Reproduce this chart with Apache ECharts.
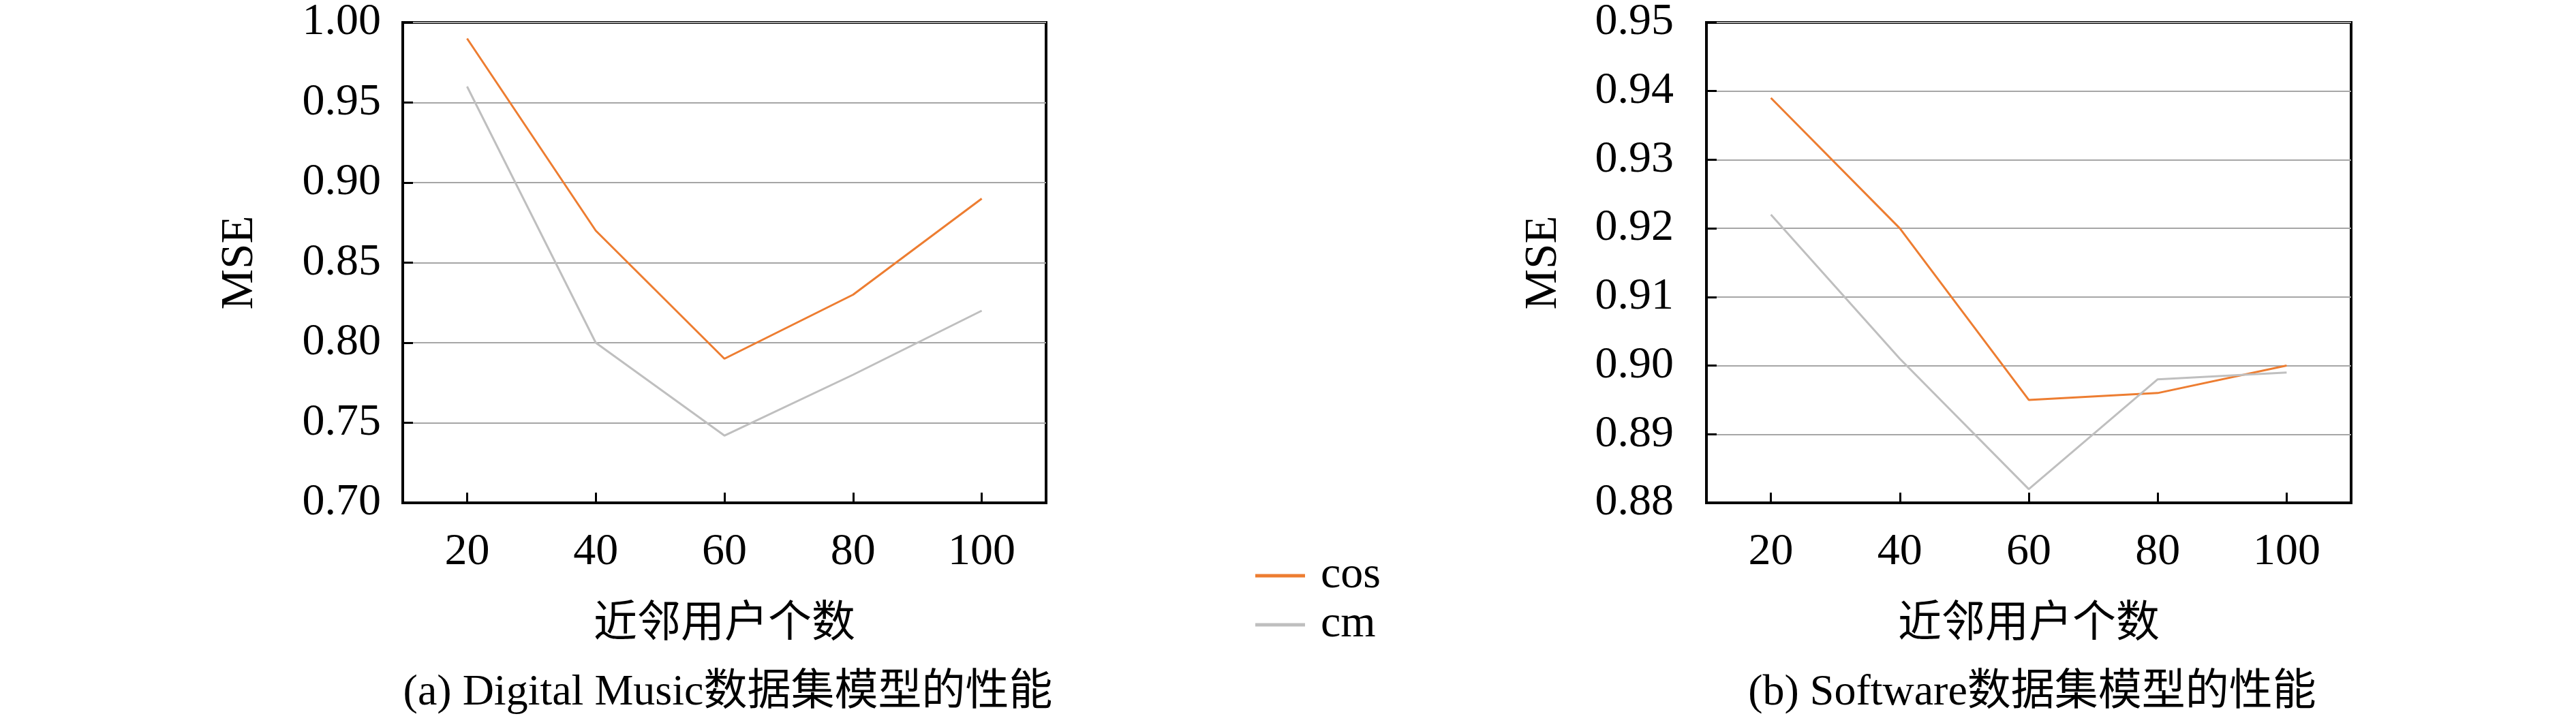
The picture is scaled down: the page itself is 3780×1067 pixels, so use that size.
<!DOCTYPE html>
<html>
<head>
<meta charset="utf-8">
<script src="https://cdn.jsdelivr.net/npm/echarts@6/dist/echarts.min.js"></script>
<style>
  html, body { margin: 0; padding: 0; background: #fff; }
  #main { width: 3780px; height: 1067px; }
</style>
</head>
<body>
<div id="main"></div>
<script>
// 近邻用户个数
const neighbors = ['20', '40', '60', '80', '100'];
const seriesNames = ['cos', 'cm'];

// (a) Digital Music
const musicCos = [0.99, 0.87, 0.79, 0.83, 0.89];
const musicCm = [0.96, 0.80, 0.742, 0.78, 0.82];

// (b) Software
const softCos = [0.939, 0.920, 0.895, 0.896, 0.900];
const softCm = [0.922, 0.901, 0.882, 0.898, 0.899];

const captions = ['(a) Digital Music数据集模型的性能', '(b) Software数据集模型的性能'];
const xName = '近邻用户个数';
const yName = 'MSE';

const FONT = "'Liberation Serif', 'Noto Sans CJK SC', serif";
const COLORS = ['#ED7D31', '#BFBFBF'];

const chart = echarts.init(document.getElementById('main'));

function xAxisOf(idx) {
  return {
    type: 'category',
    gridIndex: idx,
    data: neighbors,
    boundaryGap: true,
    name: xName,
    nameLocation: 'middle',
    nameGap: 147,
    nameTextStyle: { color: '#000', fontSize: 64, fontFamily: FONT },
    axisLine: { show: true, lineStyle: { color: '#000', width: 4 } },
    axisTick: { show: true, inside: true, alignWithLabel: true, length: 15, lineStyle: { color: '#000', width: 3 } },
    axisLabel: { color: '#000', fontSize: 66, fontFamily: FONT, margin: 40 },
    splitLine: { show: false },
  };
}

function yAxisOf(idx, min, max, interval, margin) {
  return {
    type: 'value',
    gridIndex: idx,
    min: min,
    max: max,
    interval: interval,
    name: yName,
    nameLocation: 'middle',
    nameGap: 205,
    nameTextStyle: { color: '#000', fontSize: 67, fontFamily: FONT },
    axisLine: { show: true, lineStyle: { color: '#000', width: 4 } },
    axisTick: { show: true, inside: true, length: 15, lineStyle: { color: '#000', width: 3 } },
    axisLabel: {
      color: '#000',
      fontSize: 66,
      fontFamily: FONT,
      margin: margin,
      formatter: function (v) { return v.toFixed(2); },
    },
    splitLine: { show: true, lineStyle: { color: '#A6A6A6', width: 2 } },
  };
}

function lineOf(name, data, idx, color) {
  return {
    name: name,
    type: 'line',
    xAxisIndex: idx,
    yAxisIndex: idx,
    data: data,
    symbol: 'none',
    lineStyle: { color: color, width: 3 },
    itemStyle: { color: color },
  };
}

chart.setOption({
  animation: false,
  title: [
    {
      text: captions[0],
      left: 1063,
      top: 980,
      textAlign: 'center',
      textStyle: { color: '#000', fontSize: 64, fontWeight: 'normal', fontFamily: FONT },
    },
    {
      text: captions[1],
      left: 2977,
      top: 980,
      textAlign: 'center',
      textStyle: { color: '#000', fontSize: 64, fontWeight: 'normal', fontFamily: FONT },
    },
  ],
  legend: {
    data: seriesNames,
    orient: 'vertical',
    left: 1837,
    top: 807,
    icon: 'rect',
    itemWidth: 73,
    itemHeight: 5,
    itemGap: 6,
    textStyle: { color: '#000', fontSize: 66, fontFamily: FONT, lineHeight: 40, padding: [0, 0, 0, 18] },
  },
  grid: [
    { left: 591, top: 31, width: 944, height: 707, show: true, borderColor: '#000', borderWidth: 4, backgroundColor: 'transparent' },
    { left: 2504, top: 31, width: 946, height: 707, show: true, borderColor: '#000', borderWidth: 4, backgroundColor: 'transparent' },
  ],
  xAxis: [xAxisOf(0), xAxisOf(1)],
  yAxis: [yAxisOf(0, 0.7, 1.0, 0.05, 32), yAxisOf(1, 0.88, 0.95, 0.01, 48)],
  series: [
    lineOf(seriesNames[0], musicCos, 0, COLORS[0]),
    lineOf(seriesNames[1], musicCm, 0, COLORS[1]),
    lineOf(seriesNames[0], softCos, 1, COLORS[0]),
    lineOf(seriesNames[1], softCm, 1, COLORS[1]),
  ],
});
</script>
</body>
</html>
